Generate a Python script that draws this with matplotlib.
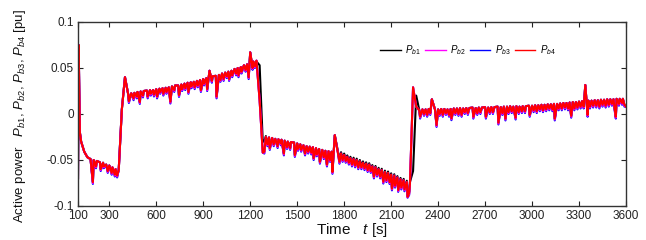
import numpy as np
import matplotlib
matplotlib.use("Agg")
from matplotlib import pyplot as plt

plt.rcParams['font.family'] = ['Liberation Sans', 'DejaVu Sans']
plt.rcParams['mathtext.fontset'] = 'custom'
plt.rcParams['mathtext.rm'] = 'Liberation Sans'
plt.rcParams['mathtext.it'] = 'Liberation Sans:italic'

# time axis [s]: a few points at the start, then every 20 s
t_head = [100, 104, 112]
t_step = 20
t_end = 3600

# slow part of the active power [pu] on the time grid (Pb2, Pb3, Pb4)
base_main = [
    -0.070, 0.075, -0.020,
    -0.030, -0.041, -0.047, -0.049, -0.050, -0.051, -0.0525, -0.053, -0.055, -0.056,
    -0.058, -0.060, -0.061, 0.005, 0.040, 0.022, 0.0225, 0.023, 0.024, 0.0245,
    0.025, 0.0255, 0.026, 0.026, 0.027, 0.0275, 0.028, 0.0285, 0.029, 0.030,
    0.031, 0.031, 0.032, 0.033, 0.034, 0.0345, 0.035, 0.036, 0.037, 0.038,
    0.039, 0.047, 0.041, 0.0415, 0.0425, 0.044, 0.045, 0.046, 0.047, 0.049,
    0.050, 0.051, 0.053, 0.054, 0.067, 0.057, 0.058, 0.015, -0.042, -0.025,
    -0.0255, -0.026, -0.027, -0.0275, -0.028, -0.029, -0.030, -0.0305, -0.031, -0.032,
    -0.033, -0.034, -0.035, -0.0355, -0.036, -0.037, -0.038, -0.039, -0.040, -0.0405,
    -0.041, -0.023, -0.042, -0.043, -0.0445, -0.0465, -0.048, -0.049, -0.050, -0.0515,
    -0.053, -0.054, -0.055, -0.057, -0.058, -0.060, -0.061, -0.063, -0.064, -0.066,
    -0.067, -0.069, -0.071, -0.072, -0.074, -0.076, 0.029, 0.008, 0.004, 0.005,
    0.005, 0.0055, 0.016, 0.005, 0.005, 0.0055, 0.0055, 0.005, 0.0055, 0.006,
    0.006, 0.0065, 0.006, 0.0065, 0.0065, 0.007, 0.0065, 0.007, 0.007, 0.0075,
    0.007, 0.0075, 0.0075, 0.008, 0.0075, 0.008, 0.008, 0.0085, 0.008, 0.0085,
    0.008, 0.0085, 0.0085, 0.009, 0.009, 0.0095, 0.0095, 0.010, 0.010, 0.0105,
    0.0105, 0.011, 0.011, 0.0115, 0.012, 0.012, 0.0125, 0.013, 0.013, 0.0135,
    0.014, 0.0315, 0.0145, 0.0145, 0.015, 0.015, 0.0155, 0.0155, 0.016, 0.016,
    0.016, 0.0165, 0.0165, 0.0165, 0.008,
]

# Pb1 lags at the two fast changes and sits a little higher after 1750 s
base_pb1 = [
    -0.070, 0.075, -0.020,
    -0.030, -0.041, -0.047, -0.049, -0.050, -0.051, -0.0525, -0.053, -0.055, -0.056,
    -0.058, -0.060, -0.061, 0.005, 0.040, 0.022, 0.0225, 0.023, 0.024, 0.0245,
    0.025, 0.0255, 0.026, 0.026, 0.027, 0.0275, 0.028, 0.0285, 0.029, 0.030,
    0.031, 0.031, 0.032, 0.033, 0.034, 0.0345, 0.035, 0.036, 0.037, 0.038,
    0.039, 0.047, 0.041, 0.0415, 0.0425, 0.044, 0.045, 0.046, 0.047, 0.049,
    0.050, 0.051, 0.053, 0.054, 0.067, 0.057, 0.057, 0.053, -0.030, -0.024,
    -0.0255, -0.026, -0.027, -0.0275, -0.028, -0.029, -0.030, -0.0305, -0.031, -0.032,
    -0.033, -0.034, -0.035, -0.0355, -0.036, -0.037, -0.038, -0.039, -0.040, -0.0405,
    -0.041, -0.023, -0.0405, -0.0415, -0.043, -0.045, -0.0465, -0.0475, -0.0485, -0.050,
    -0.0515, -0.0525, -0.0535, -0.0555, -0.0565, -0.0585, -0.0595, -0.0615, -0.0625, -0.0645,
    -0.0655, -0.0675, -0.0695, -0.0705, -0.0725, -0.074, -0.062, 0.020, 0.004, 0.005,
    0.005, 0.0055, 0.016, 0.005, 0.005, 0.0055, 0.0055, 0.005, 0.0055, 0.006,
    0.006, 0.0065, 0.006, 0.0065, 0.0065, 0.007, 0.0065, 0.007, 0.007, 0.0075,
    0.007, 0.0075, 0.0075, 0.008, 0.0075, 0.008, 0.008, 0.0085, 0.008, 0.0085,
    0.008, 0.0085, 0.0085, 0.009, 0.009, 0.0095, 0.0095, 0.010, 0.010, 0.0105,
    0.0105, 0.011, 0.011, 0.0115, 0.012, 0.012, 0.0125, 0.013, 0.013, 0.0135,
    0.014, 0.0315, 0.0145, 0.0145, 0.015, 0.015, 0.0155, 0.0155, 0.016, 0.016,
    0.016, 0.0165, 0.0165, 0.0165, 0.008,
]

# short downward dips: times [s] and tip values [pu] per series
dip_t = [
    195, 215, 245, 265, 290, 315, 335, 350,
    425, 455, 475, 495, 515, 545, 565, 585, 605, 625,
    645, 665, 690, 715, 745, 765, 785, 805, 825, 845,
    865, 885, 905, 925, 955, 985, 1010, 1030, 1050, 1065,
    1085, 1110, 1125, 1145, 1170, 1190, 1215, 1230,
    1290, 1310, 1325, 1350, 1375, 1395, 1415, 1435, 1455, 1485,
    1505, 1525, 1550, 1570, 1590, 1605, 1625, 1645, 1670, 1690,
    1710, 1725, 1770, 1790, 1810, 1830, 1850, 1870, 1890, 1910,
    1930, 1950, 1970, 1990, 2010, 2030, 2050, 2070, 2090, 2105,
    2125, 2145, 2165, 2185, 2205, 2215,
    2285, 2310, 2330, 2350, 2390, 2410, 2430, 2450, 2470, 2485,
    2510, 2530, 2550, 2570, 2590, 2625, 2650, 2670, 2705, 2730,
    2750, 2785, 2810, 2830, 2850, 2870, 2895, 2915, 2935, 2955,
    2985, 3010, 3030, 3050, 3070, 3090, 3110, 3130, 3145, 3170,
    3190, 3210, 3230, 3250, 3270, 3290, 3310, 3330, 3355, 3370,
    3390, 3410, 3430, 3450, 3470, 3490, 3510, 3525, 3535, 3555,
    3575, 3590,
]

dip_pb4 = [
    -0.074, -0.057, -0.060, -0.057, -0.062, -0.064, -0.066, -0.067,
    0.014, 0.017, 0.019, 0.013, 0.020, 0.019, 0.022, 0.021, 0.019, 0.024,
    0.022, 0.024, 0.0134, 0.026, 0.0206, 0.027, 0.028, 0.024, 0.030, 0.029,
    0.031, 0.026, 0.033, 0.027, 0.036, 0.019, 0.037, 0.038, 0.041, 0.038,
    0.042, 0.044, 0.042, 0.046, 0.048, 0.040, 0.050, 0.052,
    -0.041, -0.033, -0.037, -0.033, -0.035, -0.032, -0.043, -0.036, -0.037, -0.0446,
    -0.038, -0.039, -0.043, -0.041, -0.042, -0.048, -0.044, -0.052, -0.047, -0.055,
    -0.050, -0.063, -0.052, -0.050, -0.051, -0.053, -0.055, -0.056, -0.058, -0.058,
    -0.059, -0.061, -0.062, -0.068, -0.066, -0.068, -0.0736, -0.072, -0.074, -0.081,
    -0.078, -0.0826, -0.080, -0.082, -0.090, -0.086,
    -0.003, 0.000, -0.001, 0.001, -0.012, 0.000, -0.001, 0.001, -0.001, -0.0047,
    0.001, 0.000, -0.001, 0.002, 0.001, -0.003, 0.001, 0.002, -0.003, 0.002,
    0.002, -0.0094, 0.001, -0.005, 0.002, 0.003, -0.004, 0.002, 0.003, 0.003,
    -0.001, 0.004, 0.003, 0.005, 0.004, 0.005, 0.006, 0.005, -0.005, 0.006,
    0.006, 0.007, 0.006, -0.002, 0.006, 0.007, 0.008, 0.008, -0.001, 0.008,
    0.009, 0.009, 0.008, 0.010, 0.009, 0.010, 0.011, 0.009, -0.003, 0.011,
    0.012, 0.010,
]

dip_pb1 = [
    -0.074, -0.057, -0.060, -0.057, -0.062, -0.064, -0.066, -0.067,
    0.014, 0.017, 0.019, 0.013, 0.020, 0.019, 0.022, 0.021, 0.019, 0.024,
    0.022, 0.024, 0.0134, 0.026, 0.0206, 0.027, 0.028, 0.024, 0.030, 0.029,
    0.031, 0.026, 0.033, 0.027, 0.036, 0.019, 0.037, 0.038, 0.041, 0.038,
    0.042, 0.044, 0.042, 0.046, 0.048, 0.040, 0.050, 0.052,
    -0.030, -0.033, -0.037, -0.033, -0.035, -0.032, -0.043, -0.036, -0.037, -0.0446,
    -0.038, -0.039, -0.043, -0.041, -0.042, -0.048, -0.044, -0.052, -0.047, -0.055,
    -0.050, -0.063, -0.0505, -0.0485, -0.0495, -0.0515, -0.0535, -0.0545, -0.0565, -0.0565,
    -0.0575, -0.0595, -0.0605, -0.0665, -0.0645, -0.0665, -0.072, -0.0705, -0.0725, -0.0795,
    -0.0765, -0.081, -0.0785, -0.0805, -0.0885, -0.0845,
    -0.003, 0.000, -0.001, 0.001, -0.012, 0.000, -0.001, 0.001, -0.001, -0.0047,
    0.001, 0.000, -0.001, 0.002, 0.001, -0.003, 0.001, 0.002, -0.003, 0.002,
    0.002, -0.0094, 0.001, -0.005, 0.002, 0.003, -0.004, 0.002, 0.003, 0.003,
    -0.001, 0.004, 0.003, 0.005, 0.004, 0.005, 0.006, 0.005, -0.005, 0.006,
    0.006, 0.007, 0.006, -0.002, 0.006, 0.007, 0.008, 0.008, -0.001, 0.008,
    0.009, 0.009, 0.008, 0.010, 0.009, 0.010, 0.011, 0.009, -0.003, 0.011,
    0.012, 0.010,
]

dip_pb2 = [
    -0.075, -0.058, -0.061, -0.058, -0.063, -0.065, -0.067, -0.068,
    0.013, 0.016, 0.018, 0.012, 0.019, 0.018, 0.021, 0.020, 0.018, 0.023,
    0.021, 0.023, 0.0124, 0.025, 0.0196, 0.026, 0.027, 0.023, 0.029, 0.028,
    0.030, 0.025, 0.032, 0.026, 0.035, 0.018, 0.036, 0.037, 0.040, 0.037,
    0.041, 0.043, 0.041, 0.045, 0.047, 0.039, 0.049, 0.051,
    -0.042, -0.034, -0.038, -0.034, -0.036, -0.033, -0.044, -0.037, -0.038, -0.0456,
    -0.039, -0.040, -0.044, -0.042, -0.043, -0.049, -0.045, -0.053, -0.048, -0.056,
    -0.051, -0.064, -0.053, -0.051, -0.052, -0.054, -0.056, -0.057, -0.059, -0.059,
    -0.060, -0.062, -0.063, -0.069, -0.067, -0.069, -0.0746, -0.073, -0.075, -0.082,
    -0.079, -0.0836, -0.081, -0.083, -0.0905, -0.087,
    -0.004, -0.001, -0.002, 0.000, -0.013, -0.001, -0.002, 0.000, -0.002, -0.0057,
    0.000, -0.001, -0.002, 0.001, 0.000, -0.004, 0.000, 0.001, -0.004, 0.001,
    0.001, -0.0104, 0.000, -0.006, 0.001, 0.002, -0.005, 0.001, 0.002, 0.002,
    -0.002, 0.003, 0.002, 0.004, 0.003, 0.004, 0.005, 0.004, -0.006, 0.005,
    0.005, 0.006, 0.005, -0.003, 0.005, 0.006, 0.007, 0.007, -0.002, 0.007,
    0.008, 0.008, 0.007, 0.009, 0.008, 0.009, 0.010, 0.008, -0.004, 0.010,
    0.011, 0.009,
]

dip_pb3 = [
    -0.076, -0.059, -0.062, -0.059, -0.064, -0.066, -0.068, -0.069,
    0.012, 0.015, 0.017, 0.011, 0.018, 0.017, 0.020, 0.019, 0.017, 0.022,
    0.020, 0.022, 0.0114, 0.024, 0.0186, 0.025, 0.026, 0.022, 0.028, 0.027,
    0.029, 0.024, 0.031, 0.025, 0.034, 0.017, 0.035, 0.036, 0.039, 0.036,
    0.040, 0.042, 0.040, 0.044, 0.046, 0.038, 0.048, 0.050,
    -0.043, -0.035, -0.039, -0.035, -0.037, -0.034, -0.045, -0.038, -0.039, -0.0466,
    -0.040, -0.041, -0.045, -0.043, -0.044, -0.050, -0.046, -0.054, -0.049, -0.057,
    -0.052, -0.065, -0.054, -0.052, -0.053, -0.055, -0.057, -0.058, -0.060, -0.060,
    -0.061, -0.063, -0.064, -0.070, -0.068, -0.070, -0.0756, -0.074, -0.076, -0.083,
    -0.080, -0.0846, -0.082, -0.084, -0.091, -0.088,
    -0.005, -0.002, -0.003, -0.001, -0.014, -0.002, -0.003, -0.001, -0.003, -0.0067,
    -0.001, -0.002, -0.003, 0.000, -0.001, -0.005, -0.001, 0.000, -0.005, 0.000,
    0.000, -0.0114, -0.001, -0.007, 0.000, 0.001, -0.006, 0.000, 0.001, 0.001,
    -0.003, 0.002, 0.001, 0.003, 0.002, 0.003, 0.004, 0.003, -0.007, 0.004,
    0.004, 0.005, 0.004, -0.004, 0.004, 0.005, 0.006, 0.006, -0.003, 0.006,
    0.007, 0.007, 0.006, 0.008, 0.007, 0.008, 0.009, 0.007, -0.005, 0.009,
    0.010, 0.008,
]

# (grid values, dip values, colour, legend name, zorder)
series = [
    (base_pb1, dip_pb1, 'k', r'$P_{b1}$', 2.0),
    (base_main, dip_pb2, '#ff00ff', r'$P_{b2}$', 2.2),
    (base_main, dip_pb3, '#0000ff', r'$P_{b3}$', 2.1),
    (base_main, dip_pb4, '#ff0000', r'$P_{b4}$', 2.3),
]

x_ticks = [100, 300, 600, 900, 1200, 1500, 1800, 2100, 2400, 2700, 3000, 3300, 3600]
y_ticks = [-0.1, -0.05, 0, 0.05, 0.1]
y_tick_labels = ['-0.1', '-0.05', '0', '0.05', '0.1']

t_grid = np.concatenate([t_head, np.arange(t_head[-1] + 8, t_end + 1, t_step)])

fig = plt.figure(figsize=(6.46, 2.40), dpi=100)
ax = fig.add_axes([78 / 646, 1 - 206 / 240, 548 / 646, 184 / 240])

for base, dips, color, name, z in series:
    # merge the grid samples and the dip samples in time order
    tt = np.concatenate([t_grid, dip_t])
    vv = np.concatenate([base, dips])
    order = np.argsort(tt, kind='stable')
    ax.plot(tt[order], vv[order], color=color, lw=1.5, label=name, zorder=z)

ax.set_xlim(100, 3600)
ax.set_ylim(-0.1, 0.1)
ax.set_xticks(x_ticks)
ax.set_xticklabels([str(v) for v in x_ticks])
ax.set_yticks(y_ticks)
ax.set_yticklabels(y_tick_labels)
ax.tick_params(direction='in', top=True, right=True, length=3.5, width=0.8,
               labelsize=8.5, colors='#222222', pad=3)
for sp in ax.spines.values():
    sp.set_color('#333333')
    sp.set_linewidth(1.0)

leg = ax.legend(ncol=4, frameon=False, loc='center', bbox_to_anchor=(0.712, 0.848),
                fontsize=7, handlelength=2.1, handletextpad=0.5, columnspacing=0.4)
for line in leg.get_lines():
    line.set_linewidth(1.0)

fig.text(352 / 646, 1 - 230 / 240, r'Time   $t$ [s]', ha='center', va='center',
         fontsize=11, color='#111111')
fig.text(20 / 646, 1 - 116 / 240,
         r'Active power   $P_{b1}$, $P_{b2}$, $P_{b3}$, $P_{b4}$ [pu]',
         rotation=90, ha='center', va='center', fontsize=9.5, color='#111111')

fig.savefig('out.png', dpi=100)
